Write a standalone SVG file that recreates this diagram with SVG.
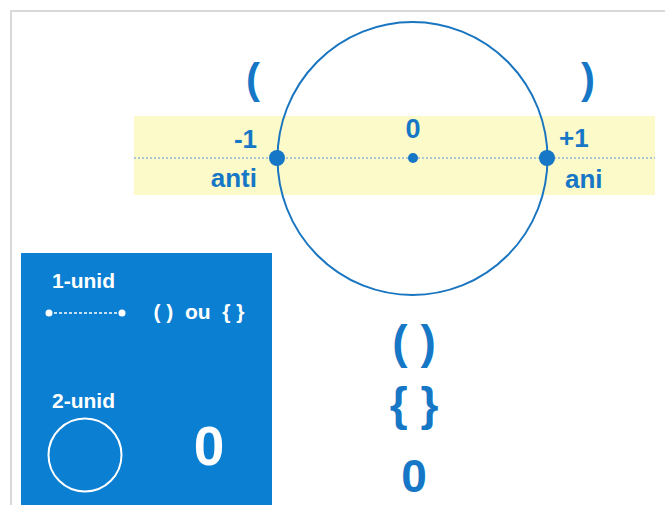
<svg xmlns="http://www.w3.org/2000/svg" width="665" height="505" viewBox="0 0 665 505">
<style>
.t{font-family:"Liberation Sans",Arial,sans-serif;font-weight:bold;fill:#1577c6}
.w{font-family:"Liberation Sans",Arial,sans-serif;font-weight:bold;fill:#ffffff}
</style>
<rect x="0" y="0" width="665" height="505" fill="#ffffff"/>
<path d="M11,505 V11 H665" fill="none" stroke="#d9d9d9" stroke-width="2"/>
<g id="band">
<rect x="134" y="116" width="521" height="79" fill="#fcfac8"/>
<line x1="134" y1="158" x2="655" y2="158" stroke="#8fb6da" stroke-width="1.5" stroke-dasharray="2 2"/>
</g>
<g id="circle">
<ellipse cx="412.5" cy="158.5" rx="135" ry="136.5" fill="none" stroke="#1a75c0" stroke-width="2"/>
</g>
<g id="point-minus1">
<circle cx="277" cy="158" r="8" fill="#1577c6"/>
<text class="t" x="257" y="148" font-size="26" text-anchor="end">-1</text>
<text class="t" x="257" y="187" font-size="26" text-anchor="end">anti</text>
<text class="t" x="253" y="93" font-size="42" text-anchor="middle" font-weight="normal">(</text>
</g>
<g id="point-zero">
<circle cx="413" cy="158" r="5" fill="#1577c6"/>
<text class="t" x="413" y="138" font-size="27" text-anchor="middle">0</text>
</g>
<g id="point-plus1">
<circle cx="547" cy="158" r="8" fill="#1577c6"/>
<text class="t" x="559" y="147" font-size="26">+1</text>
<text class="t" x="565" y="188" font-size="26">ani</text>
<text class="t" x="588" y="93" font-size="42" text-anchor="middle" font-weight="normal">)</text>
</g>
<g id="legend">
<rect x="21" y="253" width="251" height="252" fill="#0b7fd2"/>
<text class="w" x="52" y="288" font-size="21">1-unid</text>
<line x1="49" y1="313" x2="123" y2="313" stroke="#ffffff" stroke-width="1.5" stroke-dasharray="3 2"/>
<circle cx="49" cy="313" r="3.5" fill="#ffffff"/>
<circle cx="122" cy="313" r="3.5" fill="#ffffff"/>
<text class="w" x="199" y="319" font-size="21" text-anchor="middle" xml:space="preserve">( )  ou  { }</text>
<text class="w" x="52" y="408" font-size="21">2-unid</text>
<circle cx="85" cy="455" r="36.5" fill="none" stroke="#ffffff" stroke-width="2"/>
<text class="w" x="209" y="465" font-size="55" text-anchor="middle">0</text>
</g>
<g id="results">
<text class="t" x="414" y="358" font-size="46" text-anchor="middle">( )</text>
<text class="t" x="414" y="420" font-size="46" text-anchor="middle">{ }</text>
<text class="t" x="414" y="492" font-size="46" text-anchor="middle">0</text>
</g>
</svg>
